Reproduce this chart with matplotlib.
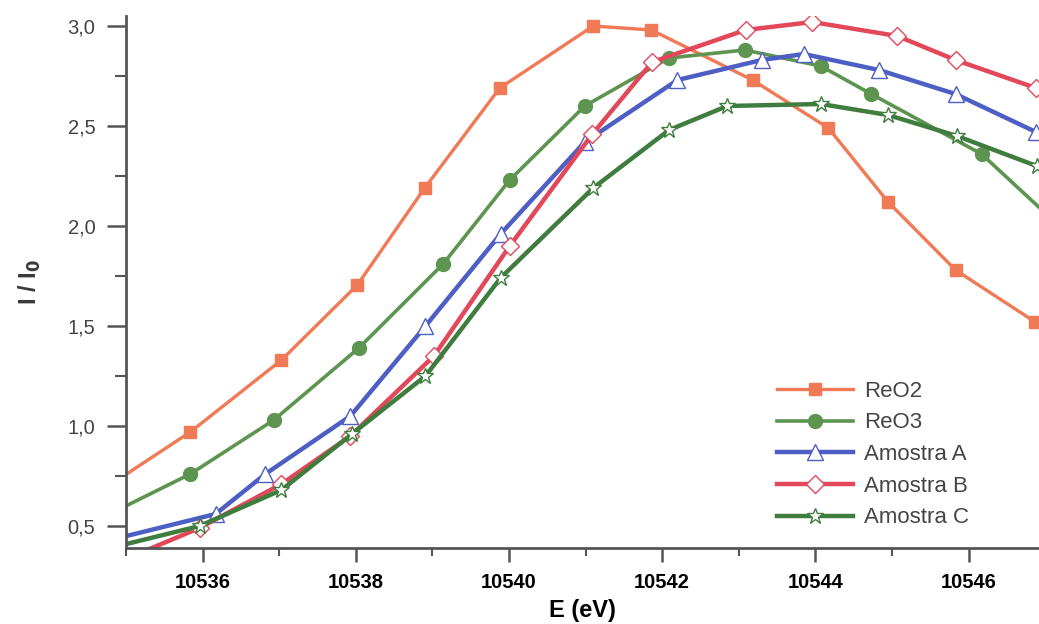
import matplotlib
matplotlib.use("Agg")
import matplotlib.pyplot as plt
from matplotlib.ticker import FixedLocator, MultipleLocator

# ---- data ----
e_reo2 = [10534.85, 10535.84, 10537.03, 10538.02, 10538.90, 10539.88, 10541.10,
          10541.86, 10543.18, 10544.17, 10544.95, 10545.83, 10546.87]
i_reo2 = [0.72, 0.97, 1.33, 1.705, 2.19, 2.69, 3.00, 2.98, 2.73, 2.49, 2.12, 1.78, 1.52]

e_reo3 = [10534.84, 10535.84, 10536.93, 10538.04, 10539.14, 10540.01, 10540.99,
          10542.09, 10543.08, 10544.07, 10544.73, 10546.17, 10547.10]
i_reo3 = [0.57, 0.76, 1.03, 1.39, 1.81, 2.23, 2.60, 2.84, 2.88, 2.80, 2.66, 2.36, 2.03]

e_a = [10534.90, 10536.17, 10536.82, 10537.93, 10538.91, 10539.89, 10540.99,
       10542.20, 10543.30, 10543.85, 10544.83, 10545.83, 10546.88]
i_a = [0.44, 0.56, 0.76, 1.05, 1.50, 1.96, 2.42, 2.73, 2.83, 2.86, 2.78, 2.66, 2.47]

e_b = [10534.90, 10535.96, 10537.03, 10537.93, 10539.02, 10540.01, 10541.09,
       10541.87, 10543.09, 10543.96, 10545.07, 10545.83, 10546.88]
i_b = [0.32, 0.49, 0.71, 0.95, 1.35, 1.90, 2.46, 2.82, 2.98, 3.02, 2.95, 2.83, 2.69]

e_c = [10534.90, 10535.96, 10537.03, 10537.95, 10538.91, 10539.89, 10541.10,
       10542.09, 10542.85, 10544.07, 10544.95, 10545.85, 10546.89]
i_c = [0.40, 0.50, 0.68, 0.96, 1.25, 1.74, 2.19, 2.48, 2.60, 2.61, 2.555, 2.45, 2.30]

labels = ["ReO2", "ReO3", "Amostra A", "Amostra B", "Amostra C"]
x_ticks = [10536, 10538, 10540, 10542, 10544, 10546]
y_ticks = [0.5, 1.0, 1.5, 2.0, 2.5, 3.0]
y_tick_labels = ["0,5", "1,0", "1,5", "2,0", "2,5", "3,0"]

plt.rcParams['font.family'] = ['Liberation Sans', 'DejaVu Sans']

fig = plt.figure(figsize=(10.39, 6.24), dpi=100)
ax = fig.add_axes([126/1039, 1 - 548/624, 1 - 126/1039, (548 - 16)/624])

series = [
    (e_reo2, i_reo2, '#f07a55', 's', '#f07a55', 2.4, 9),
    (e_reo3, i_reo3, '#5c9450', 'o', '#5c9450', 2.6, 10),
    (e_a, i_a, '#4d5ec4', '^', 'white', 3.2, 11),
    (e_b, i_b, '#e2485a', 'D', 'white', 3.2, 9),
    (e_c, i_c, '#3f7d3f', '*', 'white', 3.2, 12),
]
for (x, y, col, mk, fc, lw, ms), lab in zip(series, labels):
    ax.plot(x, y, color=col, lw=lw, marker=mk, markersize=ms,
            markerfacecolor=fc, markeredgecolor=col,
            markeredgewidth=1.0, label=lab)

ax.set_xlim(10535.0, 10546.92)
ax.set_ylim(0.39, 3.05)

ax.xaxis.set_major_locator(FixedLocator(x_ticks))
ax.xaxis.set_minor_locator(MultipleLocator(1))
ax.yaxis.set_major_locator(FixedLocator(y_ticks))
ax.set_yticklabels(y_tick_labels)
ax.yaxis.set_minor_locator(MultipleLocator(0.25))

for s in ['top', 'right']:
    ax.spines[s].set_visible(False)
for s in ['left', 'bottom']:
    ax.spines[s].set_color('#555555')
    ax.spines[s].set_linewidth(2.0)

ax.tick_params(axis='x', which='major', direction='out', length=10, width=1.8,
               color='#555555', labelsize=14.5, labelcolor='black', pad=8)
ax.tick_params(axis='x', which='minor', direction='out', length=6, width=1.5, color='#555555')
ax.tick_params(axis='y', which='major', direction='out', length=14, width=1.8,
               color='#555555', labelsize=14.5, labelcolor='#444444', pad=8)
ax.tick_params(axis='y', which='minor', direction='out', length=8, width=1.5, color='#555555')
for t in ax.get_xticklabels():
    t.set_fontweight('bold')

ax.set_xlabel('E (eV)', fontsize=17, fontweight='bold', labelpad=5)
ax.set_ylabel(r'I / I$_\mathbf{0}$', fontsize=17, fontweight='bold',
              color='#3a3a3a', labelpad=18)

leg = ax.legend(loc='lower left', bbox_to_anchor=((777 - 126) / 913, 0.037),
                frameon=False, fontsize=16, handlelength=3.4, labelspacing=0.48,
                handletextpad=0.5, borderaxespad=0.0, borderpad=0.0)
for t in leg.get_texts():
    t.set_color('#444444')

fig.savefig('out.png', dpi=100, facecolor='white')
